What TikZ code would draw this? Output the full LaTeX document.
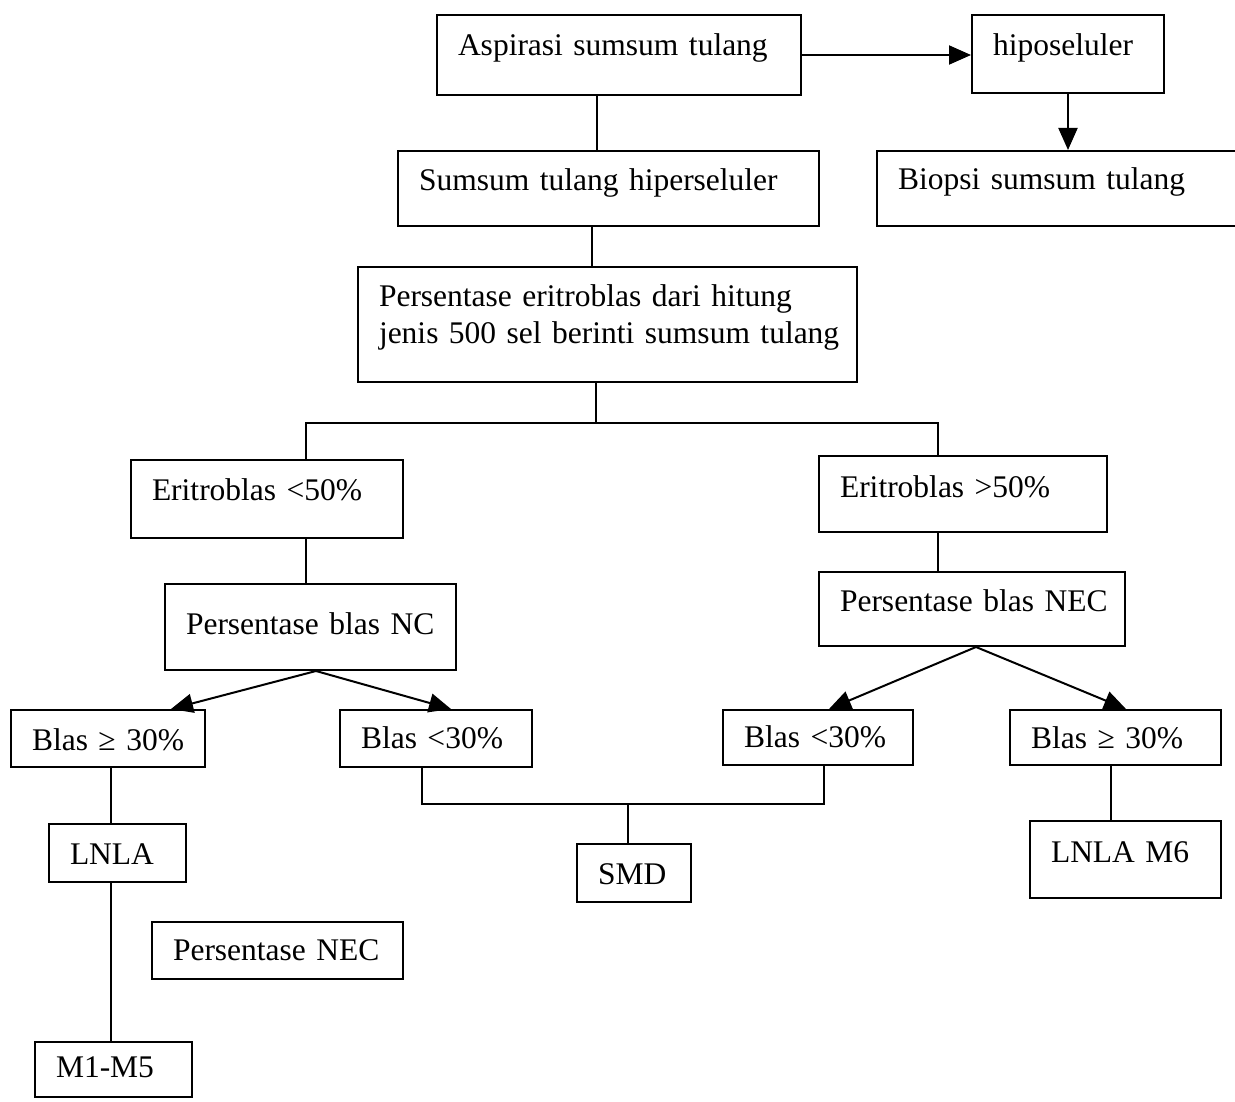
\documentclass[tikz,border=0pt]{standalone}
\usepackage{fontspec}
\setmainfont{Liberation Serif}
\usetikzlibrary{arrows.meta}
\begin{document}
\begin{tikzpicture}[x=1pt,y=-1pt,
  box/.style={draw, line width=2pt, anchor=north west, inner xsep=21pt,
    inner ysep=0pt, align=left, font=\fontsize{31.5}{37}\selectfont},
  ln/.style={line width=2pt},
  arr/.style={line width=2pt, -{Triangle[length=22pt,width=19pt]}}]
\useasboundingbox (0,0) rectangle (1235,1102);
\fill[white] (0,0) rectangle (1235,1102);
\clip (0,0) rectangle (1235,1102);

% boxes
\node[box, text width=322pt, minimum height=80pt, text height=22pt, text depth=20pt] (asp) at (436,14) {\mbox{Aspirasi sumsum tulang}};
\node[box, text width=150pt, minimum height=78pt, text height=22pt, text depth=18pt] (hipo) at (971,14) {\mbox{hiposeluler}};
\node[box, text width=379pt, minimum height=75pt, text height=22pt, text depth=17pt] (hiper) at (397,150) {\mbox{Sumsum tulang hiperseluler}};
\node[box, text width=358pt, minimum height=75pt, text height=22pt, text depth=20pt] (biopsi) at (876,150) {\mbox{Biopsi sumsum tulang}};
\node[box, text width=457pt, minimum height=115pt, text height=22pt, text depth=59pt] (pers) at (357,266) {\mbox{Persentase eritroblas dari hitung}\\\mbox{jenis 500 sel berinti sumsum tulang}};
\node[box, text width=230pt, minimum height=78pt, text height=22pt, text depth=20pt] (e50l) at (130,459) {\mbox{Eritroblas <50\%}};
\node[box, text width=246pt, minimum height=76pt, text height=22pt, text depth=16pt] (e50r) at (818,455) {\mbox{Eritroblas >50\%}};
\node[box, text width=249pt, minimum height=86pt, text height=22pt, text depth=8pt] (pnc) at (164,583) {\mbox{Persentase blas NC}};
\node[box, text width=264pt, minimum height=74pt, text height=22pt, text depth=18pt] (pnec) at (818,571) {\mbox{Persentase blas NEC}};
\node[box, text width=152pt, minimum height=57pt, text height=32pt, text depth=8pt] (b30l) at (10,709) {\mbox{Blas ≥ 30\%}};
\node[box, text width=150pt, minimum height=57pt, text height=28pt, text depth=8pt] (bl30l) at (339,709) {\mbox{Blas <30\%}};
\node[box, text width=148pt, minimum height=55pt, text height=28pt, text depth=8pt] (bl30r) at (722,709) {\mbox{Blas <30\%}};
\node[box, text width=169pt, minimum height=55pt, text height=30pt, text depth=8pt] (b30r) at (1009,709) {\mbox{Blas ≥ 30\%}};
\node[box, text width=95pt, minimum height=58pt, text height=30pt, text depth=8pt] (lnla) at (48,823) {\mbox{LNLA}};
\node[box, text width=72pt, minimum height=58pt, text height=30pt, text depth=8pt] (smd) at (576,843) {\mbox{SMD}};
\node[box, text width=149pt, minimum height=77pt, text height=22pt, text depth=17pt] (lnlam6) at (1029,820) {\mbox{LNLA M6}};
\node[box, text width=209pt, minimum height=57pt, text height=27pt, text depth=8pt] (pnec2) at (151,921) {\mbox{Persentase NEC}};
\node[box, text width=115pt, minimum height=55pt, text height=23pt, text depth=8pt] (m1m5) at (34,1041) {\mbox{M1-M5}};

% top row
\draw[arr] (asp.east) -- (asp.east -| hipo.west);
\draw[arr] (hipo.south) -- (hipo.south |- biopsi.north);
\draw[ln] ([xshift=-22pt]asp.south) -- ([xshift=-22pt]asp.south |- hiper.north);
\draw[ln] ([xshift=-17pt]hiper.south) -- ([xshift=-17pt]hiper.south |- pers.north);

% split into the two erythroblast branches
\coordinate (br) at ([xshift=-11.5pt,yshift=-40pt]pers.south);
\draw[ln] ([xshift=-11.5pt]pers.south) -- (br);
\draw[ln] ([xshift=39pt]e50l.north) |- (br) -| ([xshift=-25pt]e50r.north);
\draw[ln] ([xshift=39pt]e50l.south) -- ([xshift=39pt]e50l.south |- pnc.north);
\draw[ln] ([xshift=-25pt]e50r.south) -- ([xshift=-25pt]e50r.south |- pnec.north);

% blast percentage arrows
\draw[arr] ([xshift=5.5pt]pnc.south) -- ([xshift=63pt]b30l.north);
\draw[arr] ([xshift=5.5pt]pnc.south) -- ([xshift=15pt]bl30l.north);
\draw[arr] ([xshift=4pt]pnec.south) -- ([xshift=11pt]bl30r.north);
\draw[arr] ([xshift=4pt]pnec.south) -- ([xshift=10.5pt]b30r.north);

% outcomes
\draw[ln] ([xshift=3pt]b30l.south) -- ([xshift=3pt]b30l.south |- lnla.north);
\draw[ln] ([xshift=-6.5pt]lnla.south) -- ([xshift=-6.5pt]lnla.south |- m1m5.north);
\coordinate (jn) at ([xshift=-6pt,yshift=39pt]smd.north);
\draw[ln] ([xshift=-14pt]bl30l.south) |- (jn) -| ([xshift=6pt]bl30r.south);
\draw[ln] (jn) -- ([xshift=-6pt]smd.north);
\draw[ln] ([xshift=-4.5pt]b30r.south) -- ([xshift=-4.5pt]b30r.south |- lnlam6.north);
\end{tikzpicture}
\end{document}
